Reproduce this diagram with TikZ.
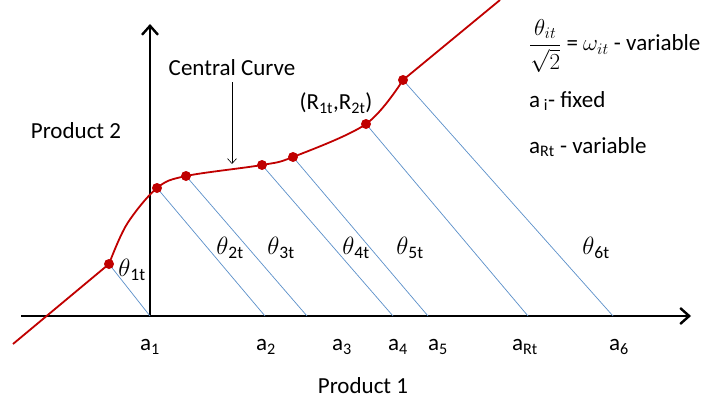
\RequirePackage{fix-cm}
\documentclass[tikz,border=0pt]{standalone}
\usepackage{fontspec}
\usepackage{amsmath}
\setmainfont{Carlito}
\usetikzlibrary{arrows.meta}
\definecolor{curvered}{HTML}{C00000}
\definecolor{projblue}{HTML}{5B8FC9}
\newcommand{\thlab}[1]{$\theta$\textsubscript{#1}}
\begin{document}
\begin{tikzpicture}[x=1pt,y=-1pt,
  axis/.style={line width=2.8pt,-{Straight Barb[length=9pt,width=16pt,line width=2.4pt]}},
  curve/.style={curvered,line width=1.8pt},
  dot/.style={circle,fill=curvered,inner sep=0pt,minimum size=10pt},
  proj/.style={projblue,line width=0.7pt},
  lbl/.style={font=\fontsize{23}{27}\selectfont,inner sep=0pt},
  thl/.style={font=\fontsize{25}{29}\selectfont,inner sep=0pt},
  pointer/.style={line width=0.6pt,-{Straight Barb[length=5pt,width=9pt,line width=0.6pt]}}]
\useasboundingbox (0,0) rectangle (704,404);
% axes
\coordinate (xs) at (21,316);
\coordinate (xe) at (691,316);
\coordinate (ys) at (150,316);
\coordinate (ye) at (150,24);
\draw[axis] (xs) -- (xe);
\draw[axis] (ys) -- (ye);
% curve points
\coordinate (c0) at (13,344);
\coordinate (c1) at (109,264);
\coordinate (c1b) at (127,224);
\coordinate (c2) at (157,188);
\coordinate (c3) at (186,176);
\coordinate (c4) at (262,165);
\coordinate (c5) at (293,157);
\coordinate (c6) at (366,124);
\coordinate (c7) at (403,80);
\coordinate (c8) at (500,0);
% axis feet
\coordinate (f1) at (150,316);
\coordinate (f2) at (265,316);
\coordinate (f3) at (307,316);
\coordinate (f4) at (393,316);
\coordinate (f5) at (428,316);
\coordinate (f6) at (528,316);
\coordinate (f7) at (613,316);
% projection lines
\draw[proj] (c1) -- (f1);
\draw[proj] (c2) -- (f2);
\draw[proj] (c3) -- (f3);
\draw[proj] (c4) -- (f4);
\draw[proj] (c5) -- (f5);
\draw[proj] (c6) -- (f6);
\draw[proj] (c7) -- (f7);
% curve
\draw[curve] (c0) -- (c1);
\draw[curve] plot[smooth,tension=0.55] coordinates {(c1) (c1b) (c2) (c3) (c4) (c5) (c6) (c7)};
\draw[curve] (c7) -- (c8);
\foreach \p in {c1,c2,c3,c4,c5,c6,c7} \node[dot] (d\p) at (\p) {};
% axis labels
\node[lbl] (a1) at (150,347) {a\textsubscript{1}};
\node[lbl] (a2) at (266,347) {a\textsubscript{2}};
\node[lbl] (a3) at (342,347) {a\textsubscript{3}};
\node[lbl] (a4) at (398,347) {a\textsubscript{4}};
\node[lbl] (a5) at (438,347) {a\textsubscript{5}};
\node[lbl] (aRt) at (525,347) {a\textsubscript{Rt}};
\node[lbl] (a6) at (619,347) {a\textsubscript{6}};
\node[lbl] (p1) at (363,386) {Product 1};
\node[lbl] (p2) at (76,131) {Product 2};
% thetas
\node[thl] (t1) at (132,270) {\thlab{1t}};
\node[thl] (t2) at (230,248) {\thlab{2t}};
\node[thl] (t3) at (281,248) {\thlab{3t}};
\node[thl] (t4) at (356,248) {\thlab{4t}};
\node[thl] (t5) at (410,248) {\thlab{5t}};
\node[thl] (t6) at (596,248) {\thlab{6t}};
% central curve
\node[lbl] (cc) at (232,68) {Central Curve};
\coordinate (ccend) at (232,164);
\draw[pointer] (cc.south |- 0,82) -- (ccend);
\node[lbl] (R) at (336,103) {(R\textsubscript{1t},R\textsubscript{2t})};
% legend
\node[lbl,anchor=west] (l1) at (529,46) {$\dfrac{\theta_{it}}{\sqrt{2}}$ = $\omega_{it}$ - variable};
\node[lbl,anchor=west] (l2) at (529,101) {a\textsubscript{ i}- fixed};
\node[lbl,anchor=west] (l3) at (529,147) {a\textsubscript{Rt} - variable};
\end{tikzpicture}
\end{document}
